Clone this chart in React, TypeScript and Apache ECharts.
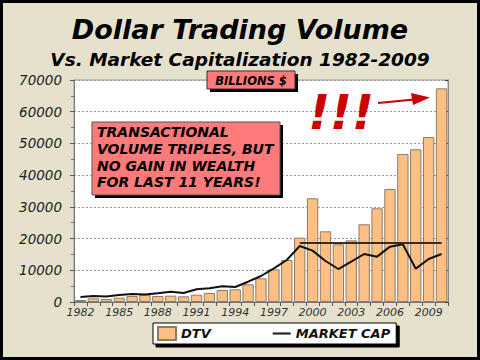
import React, { useEffect, useRef } from "react";
import * as echarts from "echarts";

const years = ["1982","1983","1984","1985","1986","1987","1988","1989","1990","1991","1992","1993","1994","1995","1996","1997","1998","1999","2000","2001","2002","2003","2004","2005","2006","2007","2008","2009","2010"];
const dtv = [630,1160,950,1370,1890,2310,1890,2000,1790,2310,2840,3780,4000,5580,7470,10300,13240,20280,32690,22290,18190,19450,24500,29540,35630,46660,48140,52020,67370];
const marketCap = [1580,1890,1700,2200,2520,2400,2730,3250,2840,4000,4310,4940,4730,6400,8200,10600,13240,17660,16200,12930,10400,12700,15140,14300,17450,18190,10510,13560,15140];
const plateauLevel = 18600;
const plateauStart = "1999";
const yTicks = [0, 10000, 20000, 30000, 40000, 50000, 60000, 70000];

const FONT = "DejaVu Sans";

export default function App() {
  const ref = useRef<HTMLDivElement>(null);
  useEffect(() => {
    if (!ref.current) return;
    const chart = echarts.init(ref.current, null, { renderer: "svg" });
    const plateau = years.map((y) => (Number(y) >= Number(plateauStart) ? plateauLevel : null));
    chart.setOption({
      animation: false,
      backgroundColor: "#e5e1cc",
      grid: { left: 74, right: 32, top: 80, bottom: 58, show: true, backgroundColor: "#ffffff", borderColor: "#9a9a9a", borderWidth: 1 },
      xAxis: {
        type: "category",
        data: years,
        axisLine: { lineStyle: { color: "#777" } },
        axisTick: { show: true, interval: 0, length: 4, lineStyle: { color: "#555" } },
        axisLabel: { interval: 2, fontFamily: FONT, fontStyle: "italic", fontSize: 11, color: "#333", margin: 5 },
      },
      yAxis: [
        {
          type: "value",
          min: yTicks[0],
          max: yTicks[yTicks.length - 1],
          interval: 10000,
          axisLine: { show: true, lineStyle: { color: "#777" } },
          axisTick: { show: true, length: 4, lineStyle: { color: "#555" } },
          minorTick: { show: true, splitNumber: 2, length: 3, lineStyle: { color: "#777" } },
          axisLabel: { fontFamily: FONT, fontStyle: "italic", fontSize: 13.5, color: "#222", margin: 12, formatter: (v: number) => String(v) },
          splitLine: { show: true, lineStyle: { color: "#999", type: [2, 2], width: 1 } },
        },
        {
          type: "value",
          position: "right",
          min: yTicks[0],
          max: yTicks[yTicks.length - 1],
          interval: 10000,
          axisLine: { show: true, lineStyle: { color: "#888" } },
          axisTick: { show: true, inside: true, length: 3, lineStyle: { color: "#333" } },
          axisLabel: { show: false },
          splitLine: { show: false },
        },
      ],
      legend: {
        data: [
          { name: "DTV", icon: "rect" },
          { name: "MARKET CAP", icon: "path://M0 0 H20 V2.4 H0 Z", itemStyle: { color: "#222" } },
        ],
        left: 153,
        top: 323,
        orient: "horizontal",
        itemWidth: 18,
        itemHeight: 13,
        itemGap: 62,
        padding: [3, 6, 3, 4],
        backgroundColor: "#ffffff",
        borderColor: "#000",
        borderWidth: 1,
        shadowColor: "#000",
        shadowOffsetX: 3,
        shadowOffsetY: 3,
        shadowBlur: 0,
        textStyle: { fontFamily: FONT, fontStyle: "italic", fontWeight: "bold", fontSize: 13, color: "#111" },
      },
      series: [
        {
          name: "DTV",
          type: "bar",
          data: dtv,
          barCategoryGap: "12%",
          itemStyle: { color: "#fdbf82", borderColor: "#8c7b6b", borderWidth: 1 },
        },
        {
          name: "MARKET CAP",
          type: "line",
          data: marketCap,
          symbol: "none",
          lineStyle: { color: "#111", width: 2 },
          itemStyle: { color: "#111" },
        },
        {
          name: "plateau",
          type: "line",
          data: plateau,
          symbol: "none",
          lineStyle: { color: "#3b2a1e", width: 2 },
        },
      ],
      graphic: [
        { type: "rect", shape: { x: 1.5, y: 1.5, width: 477, height: 357 }, style: { fill: "none", stroke: "#000", lineWidth: 3 }, z: 100 },
        { type: "text", x: 240, y: 29, style: { text: "Dollar Trading Volume", font: `italic bold 27px '${FONT}'`, fill: "#000", align: "center", verticalAlign: "middle" } },
        { type: "text", x: 240, y: 59, style: { text: "Vs. Market Capitalization 1982-2009", font: `italic bold 18.5px '${FONT}'`, fill: "#000", align: "center", verticalAlign: "middle" } },
        { type: "rect", shape: { x: 210, y: 74, width: 88, height: 18 }, style: { fill: "#000" }, z: 50 },
        { type: "rect", shape: { x: 207, y: 71, width: 88, height: 18 }, style: { fill: "#ff7a7a", stroke: "#333", lineWidth: 1 }, z: 51 },
        { type: "text", x: 251, y: 80.5, style: { text: "BILLIONS $", font: `italic bold 11.5px '${FONT}'`, fill: "#000", align: "center", verticalAlign: "middle" }, z: 52 },
        { type: "rect", shape: { x: 95, y: 125, width: 188, height: 73 }, style: { fill: "#000" }, z: 50 },
        { type: "rect", shape: { x: 92, y: 122, width: 188, height: 73 }, style: { fill: "#ff7a7a", stroke: "#555", lineWidth: 1 }, z: 51 },
        { type: "text", x: 97, y: 124, style: { text: "TRANSACTIONAL\nVOLUME TRIPLES, BUT\nNO GAIN IN WEALTH\nFOR LAST 11 YEARS!", font: `italic bold 14px '${FONT}'`, lineHeight: 16.7, fill: "#000", align: "left", verticalAlign: "top" }, z: 52 },
        { type: "text", x: 341, y: 112, style: { text: "!!!", font: `italic bold 48px '${FONT}'`, fill: "#cc0000", align: "center", verticalAlign: "middle" }, z: 52 },
        { type: "line", shape: { x1: 378, y1: 103, x2: 414, y2: 99.5 }, style: { stroke: "#cc0000", lineWidth: 2 }, z: 52 },
        { type: "polygon", shape: { points: [[430, 97.5], [411, 93], [413, 105]] }, style: { fill: "#cc0000" }, z: 52 },
      ],
    });
    return () => chart.dispose();
  }, []);
  return <div ref={ref} style={{ position: "fixed", left: 0, top: 0, width: 480, height: 360 }} />;
}
